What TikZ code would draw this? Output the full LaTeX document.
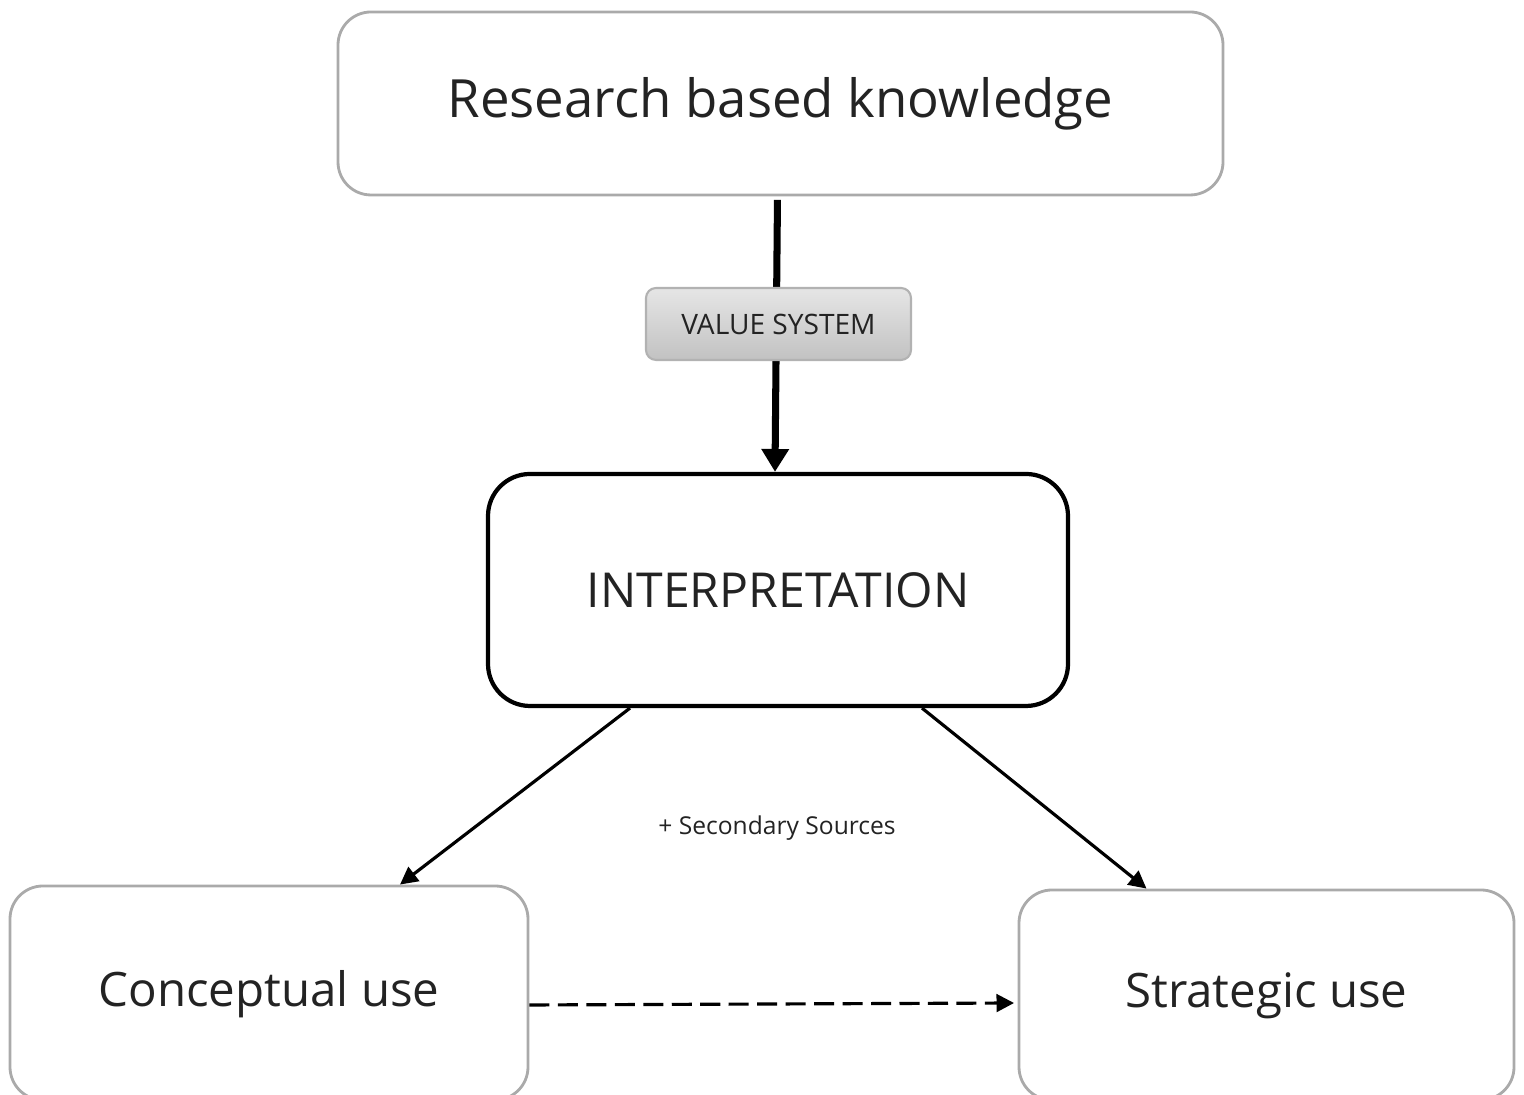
\documentclass[tikz,border=0pt]{standalone}
\usepackage{fontspec}
\setmainfont{Open Sans}
\usepackage{tikz}
\usetikzlibrary{arrows.meta}

\definecolor{boxgray}{RGB}{170,170,170}
\definecolor{txtgray}{RGB}{35,35,35}

\begin{document}
\begin{tikzpicture}[
    softbox/.style={draw=boxgray, line width=0.8pt, rounded corners=0.33cm, text=txtgray},
    mainbox/.style={draw=black, line width=1.2pt, rounded corners=0.42cm, text=txtgray},
    valuebox/.style={draw=boxgray!90, line width=0.6pt, rounded corners=0.1cm,
        top color=black!10, bottom color=black!24, text=txtgray},
    flow/.style={line width=0.9pt, -{Triangle[width=5pt,length=5pt]}}
]
    \clip (0,0) rectangle (15.24,10.95);
    \coordinate [] (R) at (7.805,9.915);
    \coordinate [] (V) at (7.785,7.71);
    \coordinate [] (I) at (7.78,5.05);
    \coordinate [] (C) at (2.69,1.02);
    \coordinate [] (S) at (12.665,1.0);
    \node [softbox, minimum width=8.85cm, minimum height=1.83cm, text depth=0.12cm, font=\fontsize{15}{18}\selectfont] (research) at (R) {Research based knowledge};
    \node [mainbox, minimum width=5.8cm, minimum height=2.32cm, font=\fontsize{13.7}{16}\selectfont] (interp) at (I) {INTERPRETATION};
    \node [softbox, minimum width=5.18cm, minimum height=2.14cm, text depth=0.1cm, font=\fontsize{13.5}{16}\selectfont] (concept) at (C) {Conceptual use};
    \node [softbox, minimum width=4.95cm, minimum height=2.1cm, text depth=0.1cm, font=\fontsize{13.5}{16}\selectfont] (strategic) at (S) {Strategic use};
    \draw [line width=2pt, -{Triangle[width=7.5pt,length=6.5pt]}, shorten <=1pt] ([xshift=-0.03cm]research.south) -- ([xshift=-0.03cm]interp.north);
    \node [valuebox, minimum width=2.65cm, minimum height=0.72cm, font=\fontsize{8}{10}\selectfont] (value) at (V) {VALUE SYSTEM};
    \draw [flow] ([xshift=-1.48cm]interp.south) -- ([xshift=1.31cm]concept.north);
    \draw [flow] ([xshift=1.44cm]interp.south) -- ([xshift=-1.2cm]strategic.north);
    \draw [flow, dash pattern=on 5.7pt off 2.4pt, shorten >=1pt] ([yshift=-0.12cm]concept.east) -- ([yshift=-0.08cm]strategic.west);
    \node [text=txtgray, font=\fontsize{7}{9}\selectfont] (second) at (7.77,2.67) {+ Secondary Sources};
\end{tikzpicture}
\end{document}
